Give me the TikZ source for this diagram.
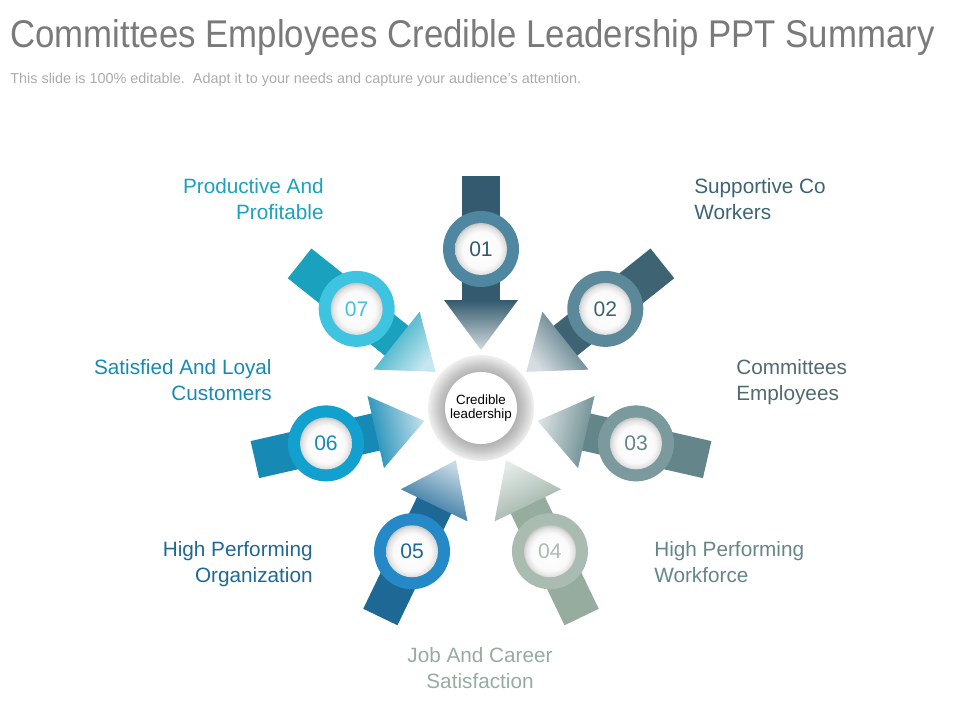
\documentclass[tikz,border=0pt]{standalone}
\usepackage{fontspec}
\setmainfont{Liberation Sans}
\newfontfamily\titlefont{Liberation Sans}[FakeStretch=0.9]
\usepackage{tikz}
\usetikzlibrary{calc}
\usepackage{xcolor}
\definecolor{one}{HTML}{335A6E}
\definecolor{oner}{HTML}{4F87A1}
\definecolor{two}{HTML}{3E6473}
\definecolor{twor}{HTML}{5C8999}
\definecolor{three}{HTML}{64868A}
\definecolor{threer}{HTML}{7A9A9E}
\definecolor{four}{HTML}{95AC9F}
\definecolor{fourr}{HTML}{AABCB2}
\definecolor{five}{HTML}{1E6896}
\definecolor{fiver}{HTML}{2489C6}
\definecolor{six}{HTML}{168AB4}
\definecolor{sixr}{HTML}{12A1CE}
\definecolor{seven}{HTML}{1AA1BE}
\definecolor{sevenr}{HTML}{3EC4E0}
\definecolor{titlegray}{HTML}{7A7A7A}
\definecolor{subgray}{HTML}{ABABAB}
\pgfdeclareradialshading{hubring}{\pgfpoint{0bp}{0bp}}{color(0bp)=(gray!60); color(17bp)=(gray!60); color(20bp)=(gray!45); color(25bp)=(gray!12); color(50bp)=(gray!12)}
\pgfdeclareradialshading{knob}{\pgfpoint{0bp}{-1.5bp}}{color(0bp)=(white); color(18bp)=(white!96!gray); color(23bp)=(gray!22); color(26.5bp)=(gray!50); color(50bp)=(gray!50)}

\begin{document}
\begin{tikzpicture}[
  num/.style={font=\fontsize{12}{14}\selectfont},
  lbl/.style={font=\fontsize{11.8}{14.7}\selectfont,inner sep=0pt}]
  \useasboundingbox (-9.62,-6.24) rectangle (9.58,8.16);
  % Title
  \node[font=\titlefont\fontsize{22}{26}\selectfont,titlegray,anchor=north west,inner sep=0pt] (title) at (-9.42,7.78) {Committees Employees Credible Leadership PPT Summary};
  \node[font=\fontsize{8.2}{10}\selectfont,subgray,anchor=north west,inner sep=0pt] (subtitle) at (-9.42,6.70) {This slide is 100\% editable.\ \ Adapt it to your needs and capture your audience's attention.};

  % 01 -- top
  \fill[one,rotate=90] (2.0,-0.38) rectangle (4.64,0.38);
  \shade[top color=one,middle color=one!92,bottom color=one!22,shading angle=0,rotate=90] (2.16,-0.74) -- (1.16,0) -- (2.16,0.74) -- cycle;
  \fill[oner] (90:3.18) circle (0.76);
  \shade[shading=knob] (90:3.18) circle (0.52);
  \node[num,text=one] (n01) at (90:3.18) {01};

  % 02
  \fill[two,rotate=38.57] (2.0,-0.38) rectangle (4.64,0.38);
  \shade[top color=two,middle color=two!92,bottom color=two!22,shading angle=-51.43,rotate=38.57] (2.16,-0.74) -- (1.16,0) -- (2.16,0.74) -- cycle;
  \fill[twor] (38.57:3.18) circle (0.76);
  \shade[shading=knob] (38.57:3.18) circle (0.52);
  \node[num,text=two] (n02) at (38.57:3.18) {02};

  % 03
  \fill[three,rotate=-12.86] (2.0,-0.38) rectangle (4.64,0.38);
  \shade[top color=three,middle color=three!92,bottom color=three!22,shading angle=-102.86,rotate=-12.86] (2.16,-0.74) -- (1.16,0) -- (2.16,0.74) -- cycle;
  \fill[threer] (-12.86:3.18) circle (0.76);
  \shade[shading=knob] (-12.86:3.18) circle (0.52);
  \node[num,text=three] (n03) at (-12.86:3.18) {03};

  % 04
  \fill[four,rotate=-64.29] (2.0,-0.38) rectangle (4.64,0.38);
  \shade[top color=four,middle color=four!92,bottom color=four!25,shading angle=-154.29,rotate=-64.29] (2.16,-0.74) -- (1.16,0) -- (2.16,0.74) -- cycle;
  \fill[fourr] (-64.29:3.18) circle (0.76);
  \shade[shading=knob] (-64.29:3.18) circle (0.52);
  \node[num,text=fourr] (n04) at (-64.29:3.18) {04};

  % 05
  \fill[five,rotate=-115.71] (2.0,-0.38) rectangle (4.64,0.38);
  \shade[top color=five,middle color=five!92,bottom color=five!25,shading angle=-205.71,rotate=-115.71] (2.16,-0.74) -- (1.16,0) -- (2.16,0.74) -- cycle;
  \fill[fiver] (-115.71:3.18) circle (0.76);
  \shade[shading=knob] (-115.71:3.18) circle (0.52);
  \node[num,text=five] (n05) at (-115.71:3.18) {05};

  % 06
  \fill[six,rotate=192.86] (2.0,-0.38) rectangle (4.64,0.38);
  \shade[top color=six,middle color=six!92,bottom color=six!25,shading angle=102.86,rotate=192.86] (2.16,-0.74) -- (1.16,0) -- (2.16,0.74) -- cycle;
  \fill[sixr] (192.86:3.18) circle (0.76);
  \shade[shading=knob] (192.86:3.18) circle (0.52);
  \node[num,text=six] (n06) at (192.86:3.18) {06};

  % 07
  \fill[seven,rotate=141.43] (2.0,-0.38) rectangle (4.64,0.38);
  \shade[top color=seven,middle color=seven!92,bottom color=seven!25,shading angle=51.43,rotate=141.43] (2.16,-0.74) -- (1.16,0) -- (2.16,0.74) -- cycle;
  \fill[sevenr] (141.43:3.18) circle (0.76);
  \shade[shading=knob] (141.43:3.18) circle (0.52);
  \node[num,text=sevenr] (n07) at (141.43:3.18) {07};

  % Hub
  \shade[shading=hubring] (0,0) circle (1.06);
  \fill[white] (0,0) circle (0.72);
  \node[font=\fontsize{7.6}{8.4}\selectfont,align=center] (hub) at (0,0) {Credible\\leadership};

  % Labels
  \node[lbl,align=right,anchor=north east,text=seven] (l07) at (-3.14,4.60) {Productive And\\Profitable};
  \node[lbl,align=left,anchor=north west,text=two] (l02) at (4.26,4.60) {Supportive Co\\Workers};
  \node[lbl,align=left,anchor=north west,text=three!80!black] (l03) at (5.10,0.98) {Committees\\Employees};
  \node[lbl,align=right,anchor=north east,text=six] (l06) at (-4.18,0.98) {Satisfied And Loyal\\Customers};
  \node[lbl,align=right,anchor=north east,text=five] (l05) at (-3.36,-2.66) {High Performing\\Organization};
  \node[lbl,align=left,anchor=north west,text=three] (l04) at (3.46,-2.66) {High Performing\\Workforce};
  \node[lbl,align=center,anchor=north,text=four] (l00) at (-0.02,-4.78) {Job And Career\\Satisfaction};
\end{tikzpicture}
\end{document}
